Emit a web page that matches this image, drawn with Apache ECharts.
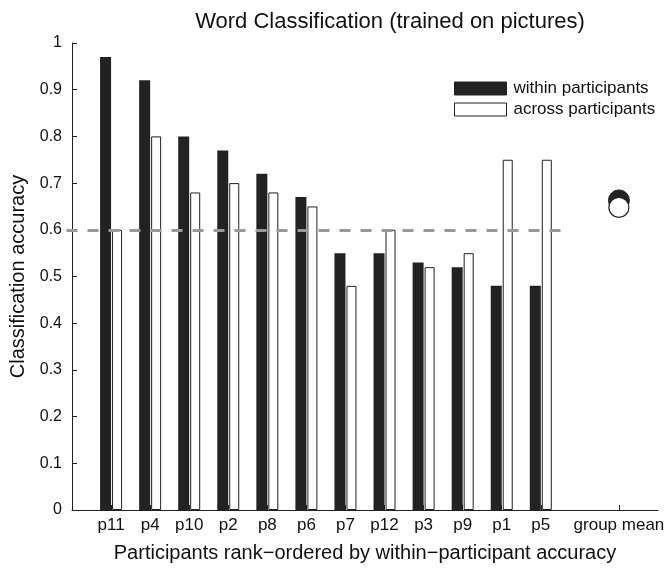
<!DOCTYPE html>
<html>
<head>
<meta charset="utf-8">
<script src="https://cdn.jsdelivr.net/npm/echarts@6/dist/echarts.min.js"></script>
<style>
  html, body { margin: 0; padding: 0; background: #fff; }
  #chart { width: 669px; height: 570px; }
</style>
</head>
<body>
<div id="chart"></div>
<script>
// participants in rank order (x positions 1..12), group mean sits at 14
const participants = ['p11', 'p4', 'p10', 'p2', 'p8', 'p6', 'p7', 'p12', 'p3', 'p9', 'p1', 'p5']
const withinAcc = [0.97, 0.92, 0.80, 0.77, 0.72, 0.67, 0.55, 0.55, 0.53, 0.52, 0.48, 0.48]
const acrossAcc = [0.60, 0.80, 0.68, 0.70, 0.68, 0.65, 0.48, 0.60, 0.52, 0.55, 0.75, 0.75]
const groupLabel = 'group mean'
const groupPos = 14
const groupWithin = 0.663
const groupAcross = 0.648
const chanceLevel = 0.6
const chanceEnd = 12.75

const font = '"Liberation Sans", Arial, Helvetica, sans-serif'
const ink = '#222'

const positions = participants.map((p, i) => i + 1)
const tickPositions = positions.concat([groupPos])
const labelOf = {}
participants.forEach((p, i) => { labelOf[i + 1] = p })
labelOf[groupPos] = groupLabel

const chart = echarts.init(document.getElementById('chart'), null, { renderer: 'canvas' })

const option = {
  backgroundColor: '#fff',
  animation: false,
  textStyle: { fontFamily: font },
  title: {
    text: 'Word Classification (trained on pictures)',
    left: 385,
    textAlign: 'center',
    top: 6,
    textStyle: { fontFamily: font, fontSize: 22, fontWeight: 'normal', color: '#111' }
  },
  legend: {
    orient: 'vertical',
    left: 449,
    top: 75,
    itemWidth: 52,
    itemHeight: 13,
    itemGap: 4,
    icon: 'rect',
    textStyle: { fontFamily: font, fontSize: 17, color: '#111', padding: [0, 0, 0, 2] },
    data: [
      { name: 'within participants', itemStyle: { color: ink, borderColor: ink, borderWidth: 1 } },
      { name: 'across participants', itemStyle: { color: '#fff', borderColor: ink, borderWidth: 1 } }
    ]
  },
  grid: {
    left: 72,
    right: 11,
    top: 43,
    bottom: 60,
    containLabel: false
  },
  xAxis: {
    type: 'value',
    min: 0,
    max: 15,
    interval: 1,
    name: 'Participants rank\u2212ordered by within\u2212participant accuracy',
    nameLocation: 'middle',
    nameGap: 33,
    nameTextStyle: { fontFamily: font, fontSize: 20, color: '#111' },
    axisLine: { lineStyle: { color: ink, width: 1 } },
    axisTick: {
      inside: true,
      length: 5,
      customValues: tickPositions,
      lineStyle: { color: ink }
    },
    axisLabel: {
      customValues: tickPositions,
      formatter: (v) => labelOf[v] || '',
      fontFamily: font,
      fontSize: 17,
      color: '#111',
      margin: 7
    },
    splitLine: { show: false }
  },
  yAxis: {
    type: 'value',
    min: 0,
    max: 1,
    interval: 0.1,
    name: 'Classification accuracy',
    nameLocation: 'middle',
    nameGap: 44,
    nameTextStyle: { fontFamily: font, fontSize: 20, color: '#111' },
    axisLine: { show: true, lineStyle: { color: ink, width: 1 } },
    axisTick: { show: true, inside: true, length: 5, lineStyle: { color: ink } },
    axisLabel: {
      fontFamily: font,
      fontSize: 16,
      color: '#111',
      margin: 10,
      formatter: (v) => String(Math.round(v * 10) / 10)
    },
    splitLine: { show: false }
  },
  series: [
    {
      name: 'within participants',
      type: 'bar',
      barWidth: 11,
      barGap: '9%',
      itemStyle: { color: ink, borderColor: ink, borderWidth: 0 },
      data: positions.map((x, i) => [x, withinAcc[i]]),
      markLine: {
        silent: true,
        symbol: 'none',
        label: { show: false },
        lineStyle: { color: '#999', width: 3, type: [11, 10] },
        data: [[{ coord: [0, chanceLevel] }, { coord: [chanceEnd, chanceLevel] }]]
      },
      z: 2
    },
    {
      name: 'across participants',
      type: 'bar',
      barWidth: 10,
      barGap: '9%',
      itemStyle: { color: '#fff', borderColor: ink, borderWidth: 1 },
      data: positions.map((x, i) => [x, acrossAcc[i]]),
      z: 2
    },
    {
      name: 'group within',
      type: 'scatter',
      symbol: 'circle',
      symbolSize: 21,
      itemStyle: { color: ink, borderColor: ink, borderWidth: 1, opacity: 1 },
      data: [[groupPos, groupWithin]],
      z: 3
    },
    {
      name: 'group across',
      type: 'scatter',
      symbol: 'circle',
      symbolSize: 20,
      itemStyle: { color: '#fff', borderColor: ink, borderWidth: 1.2, opacity: 1 },
      data: [[groupPos, groupAcross]],
      z: 4
    }
  ]
}

chart.setOption(option)
</script>
</body>
</html>
